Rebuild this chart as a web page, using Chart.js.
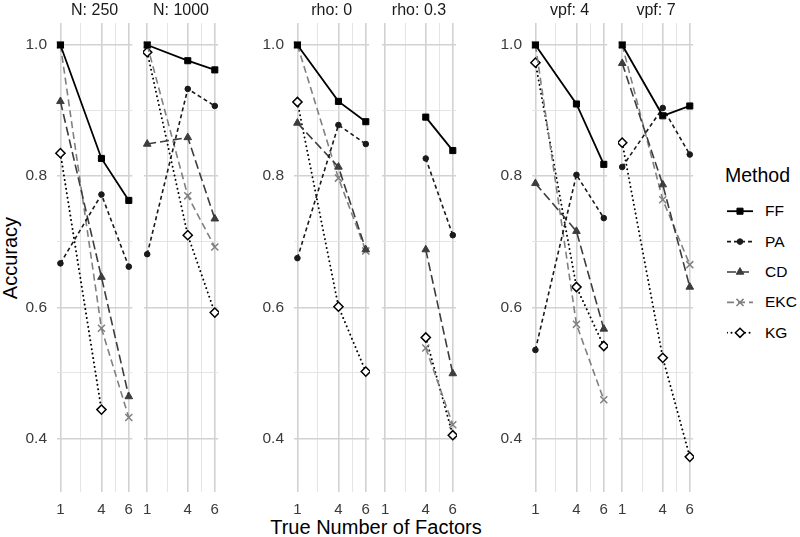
<!DOCTYPE html>
<html>
<head>
<meta charset="utf-8">
<script src="https://cdn.jsdelivr.net/npm/chart.js@4.4.1/dist/chart.umd.min.js"></script>
<style>
  body { margin: 0; background: #fff; font-family: "Liberation Sans", Arial, sans-serif; }
  #wrap { position: relative; width: 800px; height: 537px; overflow: hidden; background: #fff; }
  #wrap canvas { position: absolute; }
  .txt { position: absolute; white-space: nowrap; color: #000; line-height: 1; }
  #ytitle { left: 9.5px; top: 257.5px; font-size: 20px; transform: translate(-50%, -50%) rotate(-90deg); }
  #xtitle { left: 376px; top: 527px; font-size: 20px; transform: translate(-50%, -50%); }
  #legtitle { left: 725px; top: 176px; font-size: 19.5px; transform: translateY(-50%); }
  .legitem { left: 765px; font-size: 15.5px; transform: translateY(-50%); }
</style>
</head>
<body>
<div id="wrap">
  <div class="txt" id="ytitle">Accuracy</div>
  <div class="txt" id="xtitle">True Number of Factors</div>
  <div class="txt" id="legtitle">Method</div>
</div>
<script>
// facets and axes
const facetLabels = ["N: 250", "N: 1000", "rho: 0", "rho: 0.3", "vpf: 4", "vpf: 7"];
const factorCounts = [1, 4, 6];
const xTickLabels = [1, 4, 6];
const xMinorTicks = [2.5, 5];
const yTickLabels = [0.4, 0.6, 0.8, 1.0];
const yMinorTicks = [0.5, 0.7, 0.9];
const methods = ["FF", "PA", "CD", "EKC", "KG"];

// accuracy per facet, values at 1, 4, 6 factors
const ffAccuracy = [
  [1.000, 0.827, 0.763], [1.000, 0.976, 0.962], [1.000, 0.914, 0.883],
  [null, 0.890, 0.839], [1.000, 0.910, 0.818], [1.000, 0.892, 0.907],
];
const paAccuracy = [
  [0.667, 0.772, 0.662], [0.681, 0.933, 0.907], [0.675, 0.878, 0.849],
  [null, 0.827, 0.710], [0.535, 0.802, 0.736], [0.814, 0.904, 0.833],
];
const cdAccuracy = [
  [0.914, 0.646, 0.464], [0.849, 0.859, 0.735], [0.881, 0.814, 0.688],
  [null, 0.688, 0.499], [0.789, 0.716, 0.567], [0.972, 0.787, 0.631],
];
const ekcAccuracy = [
  [1.000, 0.568, 0.432], [1.000, 0.770, 0.692], [1.000, 0.797, 0.686],
  [null, 0.538, 0.421], [1.000, 0.574, 0.459], [1.000, 0.764, 0.665],
];
const kgAccuracy = [
  [0.835, 0.444, null], [0.989, 0.710, 0.592], [0.913, 0.601, 0.502],
  [null, 0.554, 0.405], [0.973, 0.631, 0.541], [0.851, 0.523, 0.372],
];
const seriesByMethod = [ffAccuracy, paAccuracy, cdAccuracy, ekcAccuracy, kgAccuracy];

Chart.defaults.font.family = '"Liberation Sans", Arial, sans-serif';

const FONT = '"Liberation Sans", Arial, sans-serif';
const panelLefts = [57, 143, 294, 381, 532, 618];
const panelWidth = 76;
const yLabelSpace = 50;
const H = 537;
const gridMajor = "#d2d2d2";
const gridMinor = "#e2e2e2";

function methodStyle(k) {
  const s = [
    { color: "#000000", dash: [], width: 1.8, point: "rect", r: 4.3, fill: "#000000", bw: 1 },
    { color: "#1a1a1a", dash: [4, 3], width: 1.6, point: "circle", r: 2.8, fill: "#1a1a1a", bw: 1 },
    { color: "#3d3d3d", dash: [9, 4], width: 1.6, point: "triangle", r: 4.4, fill: "#3d3d3d", bw: 1 },
    { color: "#808080", dash: [7, 4], width: 1.6, point: "crossRot", r: 5, fill: "#808080", bw: 1.5 },
    { color: "#000000", dash: [0.01, 4.5], width: 2, point: "rectRot", r: 4.6, fill: "#ffffff", bw: 1.5, cap: "round" },
  ][k];
  return {
    borderColor: s.color,
    borderWidth: s.width,
    borderDash: s.dash,
    borderCapStyle: s.cap || "butt",
    pointStyle: s.point,
    pointRadius: s.r,
    pointBackgroundColor: s.fill,
    pointBorderColor: k === 4 ? "#000000" : s.color,
    pointBorderWidth: s.bw,
    tension: 0,
    fill: false,
  };
}

function isOneOf(v, list) {
  return list.some((t) => Math.abs(t - v) < 1e-6);
}

function makePanel(p) {
  const showY = p % 2 === 0;
  const canvas = document.createElement("canvas");
  const w = panelWidth + (showY ? yLabelSpace : 0);
  canvas.width = w;
  canvas.height = H;
  canvas.style.left = (panelLefts[p] - (showY ? yLabelSpace : 0)) + "px";
  canvas.style.top = "0px";
  canvas.style.width = w + "px";
  canvas.style.height = H + "px";
  document.getElementById("wrap").appendChild(canvas);

  const datasets = methods.map((m, k) => ({
    label: m,
    data: factorCounts.map((x, j) => ({ x, y: seriesByMethod[k][p][j] })),
    xAxisID: "x",
    yAxisID: "y",
    clip: 8,
    ...methodStyle(k),
  }));

  new Chart(canvas, {
    type: "line",
    data: { datasets },
    options: {
      responsive: false,
      animation: false,
      devicePixelRatio: 1,
      // no automatic room for markers, panels keep ggplot's exact extent
      layout: { padding: 0, autoPadding: false },
      plugins: { legend: { display: false }, tooltip: { enabled: false } },
      scales: {
        x: {
          type: "linear",
          position: "bottom",
          min: 0.75,
          max: 6.25,
          afterBuildTicks: (s) => {
            s.ticks = [...xTickLabels, ...xMinorTicks].sort((a, b) => a - b).map((v) => ({ value: v }));
          },
          afterFit: (s) => { s.height = 45; },
          border: { display: false },
          grid: {
            drawTicks: false,
            color: (c) => (c.tick && isOneOf(c.tick.value, xTickLabels) ? gridMajor : gridMinor),
            lineWidth: (c) => (c.tick && isOneOf(c.tick.value, xTickLabels) ? 1.6 : 0.9),
          },
          ticks: {
            autoSkip: false,
            maxRotation: 0,
            padding: 0,
            color: "#3a3a3a",
            // tall line box pushes the labels down without widening the side padding
            font: { size: 15, family: FONT, lineHeight: 2.4 },
            callback: (v) => (isOneOf(v, xTickLabels) ? String(v) : ""),
          },
        },
        strip: {
          type: "linear",
          position: "top",
          min: 0.75,
          max: 6.25,
          afterFit: (s) => { s.height = 23; },
          border: { display: false },
          grid: { display: false, drawTicks: false },
          ticks: { display: false },
          title: {
            display: true,
            text: facetLabels[p],
            color: "#1a1a1a",
            font: { size: 16, family: FONT },
            padding: { top: 0.5, bottom: 0 },
          },
        },
        y: {
          type: "linear",
          position: "left",
          min: 0.3184,
          max: 1.0335,
          afterBuildTicks: (s) => {
            s.ticks = [...yTickLabels, ...yMinorTicks].sort((a, b) => a - b).map((v) => ({ value: v }));
          },
          afterFit: (s) => { s.width = showY ? yLabelSpace : 0; },
          border: { display: false },
          grid: {
            drawTicks: false,
            color: (c) => (c.tick && isOneOf(c.tick.value, yTickLabels) ? gridMajor : gridMinor),
            lineWidth: (c) => (c.tick && isOneOf(c.tick.value, yTickLabels) ? 1.6 : 0.9),
          },
          ticks: {
            display: showY,
            autoSkip: false,
            padding: 10,
            color: "#3a3a3a",
            font: { size: 15.5, family: FONT },
            callback: (v) => (isOneOf(v, yTickLabels) ? v.toFixed(1) : ""),
          },
        },
      },
    },
  });
}

for (let p = 0; p < facetLabels.length; p++) makePanel(p);

// legend keys: a tiny line chart, one row per method
function makeLegend() {
  const top = 196, height = 152, left = 727, width = 26;
  const canvas = document.createElement("canvas");
  canvas.width = width;
  canvas.height = height;
  canvas.style.left = left + "px";
  canvas.style.top = top + "px";
  canvas.style.width = width + "px";
  canvas.style.height = height + "px";
  const wrap = document.getElementById("wrap");
  wrap.appendChild(canvas);

  const datasets = methods.map((m, k) => {
    const st = methodStyle(k);
    return {
      label: m,
      data: [{ x: 0, y: k }, { x: 0.5, y: k }, { x: 1, y: k }],
      ...st,
      pointRadius: [0, st.pointRadius, 0],
    };
  });

  new Chart(canvas, {
    type: "line",
    data: { datasets },
    options: {
      responsive: false,
      animation: false,
      devicePixelRatio: 1,
      layout: { padding: 0, autoPadding: false },
      plugins: { legend: { display: false }, tooltip: { enabled: false } },
      scales: {
        x: { type: "linear", min: 0, max: 1, display: false },
        y: { type: "linear", min: -0.5, max: methods.length - 0.5, reverse: true, display: false },
      },
    },
  });

  methods.forEach((m, k) => {
    const d = document.createElement("div");
    d.className = "txt legitem";
    d.style.top = (top + (k + 0.5) * height / methods.length) + "px";
    d.textContent = m;
    wrap.appendChild(d);
  });
}

makeLegend();
</script>
</body>
</html>
